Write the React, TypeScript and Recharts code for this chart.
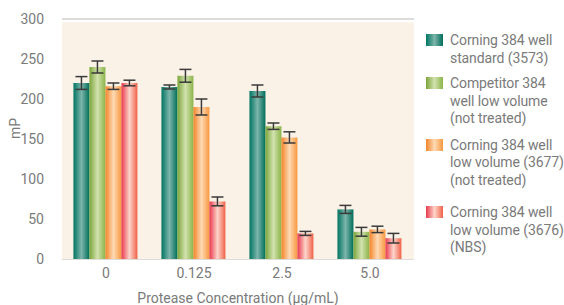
import React from 'react'
import { BarChart, Bar, XAxis, YAxis, CartesianGrid, ErrorBar, ReferenceArea } from 'recharts'

const concentrations = ['0', '0.125', '2.5', '5.0']

const standard3573 = [220, 215, 210, 62]
const standard3573Err = [8, 2.5, 7.5, 5]
const competitor = [240, 229, 166, 34]
const competitorErr = [7.5, 8, 4, 5.5]
const lowVol3677 = [216, 190, 152, 37]
const lowVol3677Err = [4, 10, 7, 4]
const lowVol3676 = [220, 72, 32, 26]
const lowVol3676Err = [3.5, 5.5, 2.5, 6]

const yTicks = [0, 50, 100, 150, 200, 250, 300]

const seriesNames = [
  ['Corning 384 well', 'standard (3573)'],
  ['Competitor 384', 'well low volume', '(not treated)'],
  ['Corning 384 well', 'low volume (3677)', '(not treated)'],
  ['Corning 384 well', 'low volume (3676)', '(NBS)'],
]

const data = concentrations.map((c, i) => ({
  conc: c,
  s1: standard3573[i],
  e1: standard3573Err[i],
  s2: competitor[i],
  e2: competitorErr[i],
  s3: lowVol3677[i],
  e3: lowVol3677Err[i],
  s4: lowVol3676[i],
  e4: lowVol3676Err[i],
}))

// left edge, centre highlight, right edge
const gradients = [
  ['#007563', '#7db5aa', '#006e5b'],
  ['#7ca53c', '#d2e2ae', '#8ab449'],
  ['#f3842a', '#ffdab4', '#f7983f'],
  ['#e7394d', '#ffd4ca', '#ef6249'],
]

// space under each legend entry
const legendGaps = [8, 9, 15, 0]

const font = 'Roboto, sans-serif'
const tickStyle = { fill: '#7a7a7a', fontSize: 14, fontFamily: font }

function GradientDefs() {
  return (
    <defs>
      {gradients.map((g, i) => (
        <linearGradient key={i} id={`g${i}`} x1="0" y1="0" x2="1" y2="0">
          <stop offset="0%" stopColor={g[0]} />
          <stop offset="50%" stopColor={g[1]} />
          <stop offset="100%" stopColor={g[2]} />
        </linearGradient>
      ))}
    </defs>
  )
}

function LegendBox() {
  return (
    <div
      style={{
        position: 'absolute',
        left: 426,
        top: 32,
        width: 138,
        fontFamily: font,
        fontSize: 14,
        letterSpacing: -0.1,
        color: '#7a7a7a',
        lineHeight: '17.5px',
      }}
    >
      {seriesNames.map((lines, i) => (
        <div key={i} style={{ display: 'flex', alignItems: 'flex-start', marginBottom: legendGaps[i] }}>
          <svg width={17} height={12} style={{ marginTop: 2, marginRight: 7, flexShrink: 0 }}>
            <GradientDefs />
            <rect width={17} height={12} fill={`url(#g${i})`} />
          </svg>
          <div style={{ whiteSpace: 'nowrap' }}>
            {lines.map((l, j) => (
              <div key={j}>{l}</div>
            ))}
          </div>
        </div>
      ))}
    </div>
  )
}

export default function App() {
  return (
    <div style={{ position: 'absolute', left: 0, top: 0, width: 564, height: 305, background: '#fff' }}>
      <BarChart
        width={564}
        height={305}
        data={data}
        margin={{ top: 19, right: 150, left: 0, bottom: 0 }}
        barCategoryGap="13%"
        barGap={0}
      >
        <GradientDefs />
        <ReferenceArea y1={0} y2={296} fill="#fbf2e7" fillOpacity={1} stroke="none" ifOverflow="extendDomain" />
        <CartesianGrid vertical={false} stroke="#d2d0ce" strokeWidth={1.5} />
        <XAxis
          dataKey="conc"
          axisLine={false}
          tickLine={false}
          tick={tickStyle}
          tickMargin={3}
          height={46}
          label={{ value: 'Protease Concentration (µg/mL)', position: 'insideBottom', offset: 2, style: tickStyle }}
        />
        <YAxis
          domain={[0, 300]}
          ticks={yTicks}
          width={62}
          axisLine={false}
          tickLine={false}
          tick={tickStyle}
          tickMargin={12}
          label={{ value: 'mP', angle: -90, position: 'insideLeft', offset: 15, style: tickStyle }}
        />
        <Bar dataKey="s1" fill="url(#g0)" isAnimationActive={false}>
          <ErrorBar dataKey="e1" width={6} stroke="#3a3a3a" strokeWidth={1.5} />
        </Bar>
        <Bar dataKey="s2" fill="url(#g1)" isAnimationActive={false}>
          <ErrorBar dataKey="e2" width={6} stroke="#3a3a3a" strokeWidth={1.5} />
        </Bar>
        <Bar dataKey="s3" fill="url(#g2)" isAnimationActive={false}>
          <ErrorBar dataKey="e3" width={6} stroke="#3a3a3a" strokeWidth={1.5} />
        </Bar>
        <Bar dataKey="s4" fill="url(#g3)" isAnimationActive={false}>
          <ErrorBar dataKey="e4" width={6} stroke="#3a3a3a" strokeWidth={1.5} />
        </Bar>
      </BarChart>
      <LegendBox />
    </div>
  )
}
